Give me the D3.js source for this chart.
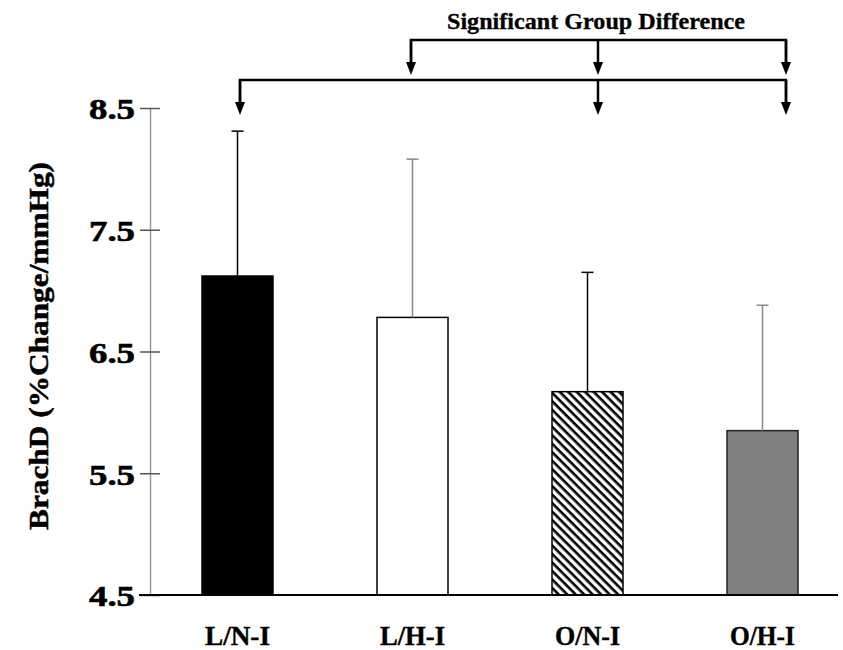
<!DOCTYPE html>
<html>
<head>
<meta charset="utf-8">
<script src="https://cdn.jsdelivr.net/npm/d3@7"></script>
<style>
  body { margin: 0; background: #fff; }
  text { font-family: "Liberation Serif", "DejaVu Serif", serif; font-weight: bold; }
</style>
</head>
<body>
<div id="chart"></div>
<script>
// data
const groups = ["L/N-I", "L/H-I", "O/N-I", "O/H-I"];
const means = [7.12, 6.78, 6.17, 5.85];
const upperErr = [8.31, 8.08, 7.15, 6.88];
const yTicks = [4.5, 5.5, 6.5, 7.5, 8.5];

// significance brackets: which groups each bracket points to
const upperBracket = ["L/H-I", "O/N-I", "O/H-I"];
const lowerBracket = ["L/N-I", "O/N-I", "O/H-I"];
const bracketNudge = [2.5, -1.5, 10.5, 23.5]; // arrows sit a little off the bar centres

const width = 843, height = 650;

const svg = d3.select("#chart").append("svg")
    .attr("width", width)
    .attr("height", height);

const defs = svg.append("defs");
const hatch = defs.append("pattern")
    .attr("id", "hatch")
    .attr("patternUnits", "userSpaceOnUse")
    .attr("width", 6)
    .attr("height", 6)
    .attr("patternTransform", "rotate(45)");
hatch.append("rect").attr("width", 6).attr("height", 6).attr("fill", "#fff");
hatch.append("rect").attr("width", 6).attr("height", 2.6).attr("fill", "#000");

const x = d3.scalePoint().domain(groups).range([150, 850]).padding(0.5);
const y = d3.scaleLinear().domain([4.5, 8.5]).range([595, 108]);
const barW = 71;

const fills = ["#000", "#fff", "url(#hatch)", "#808080"];
const strokes = ["#000", "#000", "#000", "#222"];
const errColor = ["#000", "#888", "#000", "#888"];

// y axis
const yAxis = svg.append("g").attr("transform", "translate(150,0)")
    .call(d3.axisLeft(y).tickValues(yTicks).tickFormat(d3.format(".1f")).tickSize(0));
yAxis.select(".domain").attr("stroke", "#999").attr("stroke-width", 1.5);
yAxis.selectAll(".tick text")
    .attr("x", -15)
    .attr("dy", "0.36em")
    .style("font-size", "30px")
    .attr("fill", "#000")
    .attr("stroke", "#000")
    .attr("stroke-width", 0.6)
    .attr("textLength", 46)
    .attr("lengthAdjust", "spacingAndGlyphs");
yAxis.selectAll(".tick").append("line")
    .attr("x1", -10).attr("x2", 10)
    .attr("stroke", "#555").attr("stroke-width", 1.5);

// bars
const bars = svg.append("g");
bars.selectAll("rect")
    .data(groups)
    .join("rect")
    .attr("x", d => x(d) - barW / 2)
    .attr("y", (d, i) => y(means[i]))
    .attr("width", barW)
    .attr("height", (d, i) => y(4.5) - y(means[i]))
    .attr("fill", (d, i) => fills[i])
    .attr("stroke", (d, i) => strokes[i])
    .attr("stroke-width", 1.5);

// upper error bars
const err = svg.append("g");
groups.forEach((g, i) => {
    err.append("line")
        .attr("x1", x(g)).attr("x2", x(g))
        .attr("y1", y(means[i])).attr("y2", y(upperErr[i]))
        .attr("stroke", errColor[i]).attr("stroke-width", 1.5);
    err.append("line")
        .attr("x1", x(g) - 6).attr("x2", x(g) + 6)
        .attr("y1", y(upperErr[i])).attr("y2", y(upperErr[i]))
        .attr("stroke", errColor[i]).attr("stroke-width", 1.5);
});

// baseline
svg.append("line")
    .attr("x1", 139).attr("x2", 838)
    .attr("y1", y(4.5)).attr("y2", y(4.5))
    .attr("stroke", "#000").attr("stroke-width", 1.8);

// x labels
svg.append("g").selectAll("text")
    .data(groups)
    .join("text")
    .attr("x", d => x(d))
    .attr("y", 645)
    .attr("text-anchor", "middle")
    .style("font-size", "27px")
    .attr("stroke", "#000")
    .attr("stroke-width", 0.4)
    .attr("textLength", 65)
    .attr("lengthAdjust", "spacingAndGlyphs")
    .text(d => d);

// y title
svg.append("text")
    .attr("transform", "translate(48,346) rotate(-90)")
    .attr("text-anchor", "middle")
    .style("font-size", "28px")
    .attr("stroke", "#000")
    .attr("stroke-width", 0.5)
    .attr("textLength", 368)
    .attr("lengthAdjust", "spacingAndGlyphs")
    .text("BrachD (%Change/mmHg)");

// significance brackets
function bracket(cats, lineY, tipY) {
    const xs = cats.map(c => x(c) + bracketNudge[groups.indexOf(c)]);
    const b = svg.append("g");
    b.append("path")
        .attr("d", "M" + xs[0] + "," + (tipY - 10) + "V" + lineY + "H" + xs[xs.length - 1] + "V" + (tipY - 10))
        .attr("fill", "none").attr("stroke", "#000").attr("stroke-width", 2.5);
    xs.forEach(xx => {
        b.append("line")
            .attr("x1", xx).attr("x2", xx)
            .attr("y1", lineY).attr("y2", tipY - 10)
            .attr("stroke", "#000").attr("stroke-width", 2.5);
        b.append("path")
            .attr("d", "M" + (xx - 5) + "," + (tipY - 13) + "L" + (xx + 5) + "," + (tipY - 13) + "L" + xx + "," + tipY + "Z")
            .attr("fill", "#000");
    });
}
bracket(upperBracket, 40, 75);
bracket(lowerBracket, 80, 115);

svg.append("text")
    .attr("x", 596)
    .attr("y", 29)
    .attr("text-anchor", "middle")
    .style("font-size", "23px")
    .attr("stroke", "#000")
    .attr("stroke-width", 0.3)
    .attr("textLength", 298)
    .attr("lengthAdjust", "spacingAndGlyphs")
    .text("Significant Group Difference");
</script>
</body>
</html>
